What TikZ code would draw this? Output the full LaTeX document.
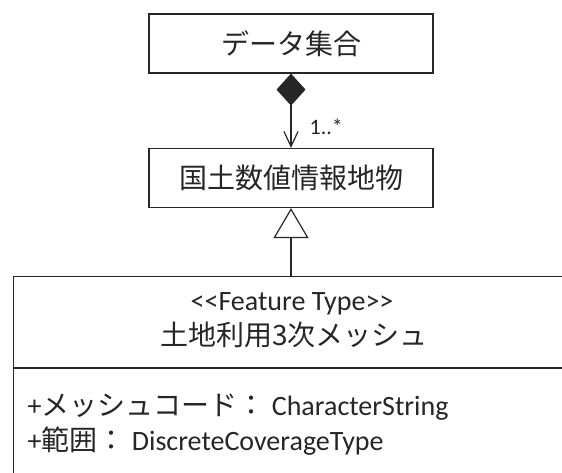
\documentclass[tikz,border=0pt]{standalone}
\usepackage{fontspec}
\setmainfont{Carlito}
\newfontfamily\jp{Noto Sans CJK JP}
\usetikzlibrary{arrows.meta}

\begin{document}
\begin{tikzpicture}[x=1pt, y=1pt, line width=1.2pt, color=black!85,
  cls/.style={draw, minimum width=284pt, minimum height=59pt, inner sep=0pt,
    font=\jp\fontsize{28}{34}\selectfont},
  txt/.style={inner sep=0pt, font=\fontsize{28}{33}\selectfont}]
  \useasboundingbox (0,0) rectangle (562,-472);
  \clip (0,0) rectangle (562,-472);
  % classes
  \node[cls] (data) at (291,-43.5) {データ集合};
  \node[cls] (feat) at (291,-178) {国土数値情報地物};
  \node[draw, minimum width=562pt, minimum height=220pt, anchor=north west] (mesh) at (13,-276) {};
  \coordinate (divider) at (0,-368);
  \draw (mesh.west |- divider) -- (mesh.east |- divider);
  \node[txt, anchor=base] (stereo) at (292,-310) {<{}<Feature Type>{}>};
  \node[txt, font=\jp\fontsize{28}{34}\selectfont, anchor=base] (meshname) at (294,-345) {土地利用3次メッシュ};
  \node[txt, anchor=base west] (attrcode) at (27,-415) {+{\jp メッシュコード：} CharacterString};
  \node[txt, anchor=base west] (attrrange) at (27,-450) {+{\jp 範囲：} DiscreteCoverageType};
  % composition
  \draw[{Diamond[length=32pt,width=29pt]}-{Straight Barb[length=15pt,width=14pt]}] (data) -- (feat);
  \node[txt, font=\fontsize{22}{26}\selectfont, anchor=base west] (mult) at (309,-134) {1..*};
  % generalization
  \draw[-{Triangle[open,length=30pt,width=35pt]}] (feat |- mesh.north) -- (feat);
\end{tikzpicture}
\end{document}
